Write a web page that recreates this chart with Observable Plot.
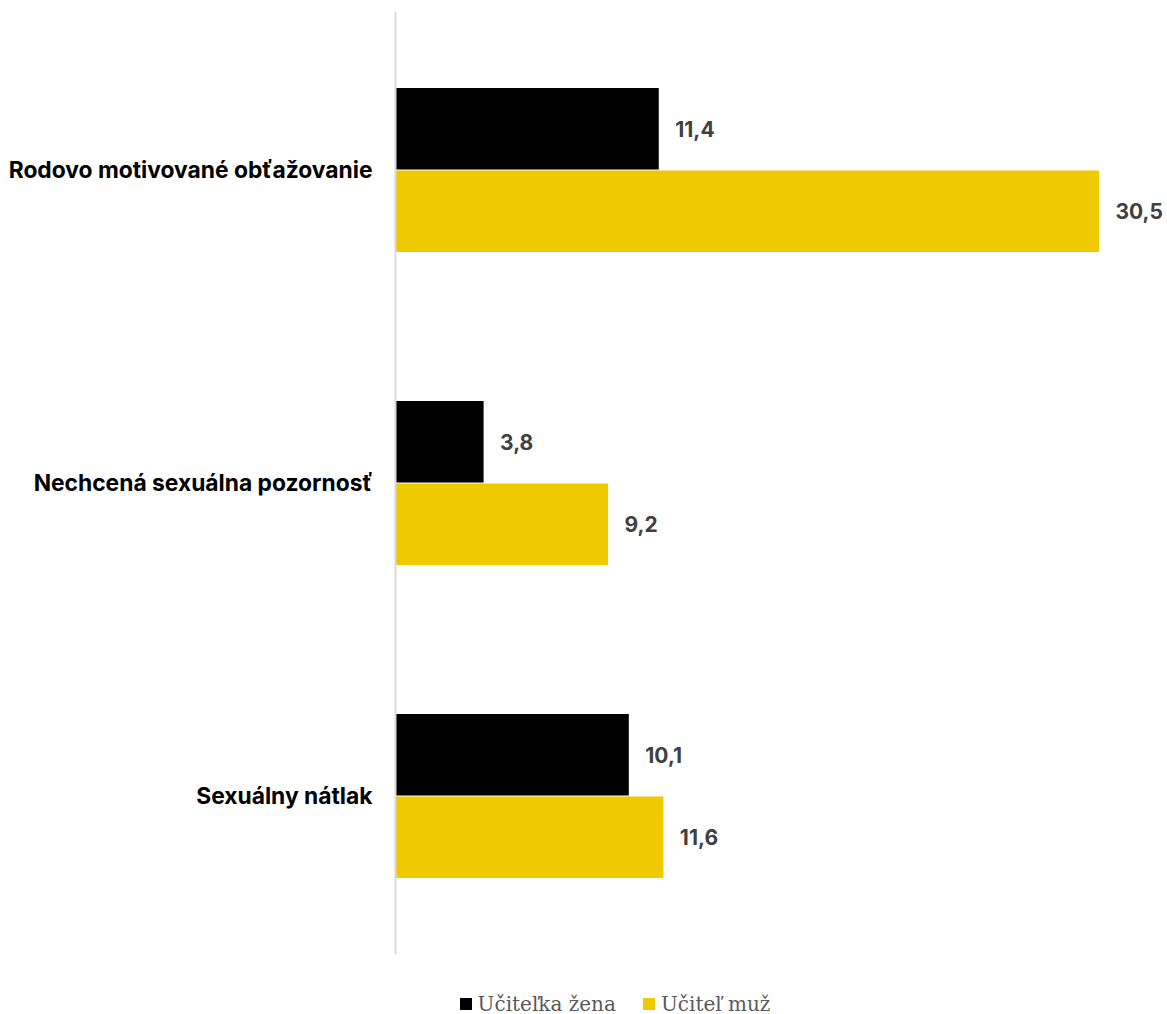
<!DOCTYPE html>
<html>
<head>
<meta charset="utf-8">
<script src="https://cdn.jsdelivr.net/npm/d3@7"></script>
<script src="https://cdn.jsdelivr.net/npm/@observablehq/plot@0.6"></script>
<style>
  html, body { margin: 0; padding: 0; background: #fff; }
  #chart { width: 1167px; }
  .legend { display: flex; justify-content: center; gap: 27px; font-family: "DejaVu Serif", "Liberation Serif", serif; font-size: 20px; color: #595959; margin-top: 28px; padding-left: 63px; }
  .legend span.item { display: inline-flex; align-items: center; gap: 6px; }
  .legend span.sw { display: inline-block; width: 12px; height: 12px; }
</style>
</head>
<body>
<div id="chart"></div>
<script>
const categories = ["Rodovo motivované obťažovanie", "Nechcená sexuálna pozornosť", "Sexuálny nátlak"];
const seriesNames = ["Učiteľka žena", "Učiteľ muž"];
const womenValues = [11.4, 3.8, 10.1];
const menValues = [30.5, 9.2, 11.6];
const seriesColors = ["#000000", "#f0ca00"];

const women = categories.map((c, i) => ({category: c, value: womenValues[i]}));
const men = categories.map((c, i) => ({category: c, value: menValues[i]}));
const fmt = v => v.toFixed(1).replace(".", ",");

const chart = Plot.plot({
  width: 1167,
  height: 964,
  marginLeft: 396,
  marginRight: 68,
  marginTop: 12,
  marginBottom: 10,
  style: {fontFamily: "Inter, sans-serif", background: "#fff"},
  x: {domain: [0, 30.5], axis: null},
  y: {domain: categories, paddingInner: 0.4745, paddingOuter: 0.239, label: null},
  marks: [
    Plot.axisY({tickSize: 0, tickPadding: 24, fontSize: 22.8, fontWeight: "bold", fill: "#000", label: null}),
    Plot.barX(women, {x: "value", y: "category", fill: seriesColors[0], insetBottom: 82.5}),
    Plot.barX(men, {x: "value", y: "category", fill: seriesColors[1], insetTop: 82.5}),
    Plot.ruleX([0], {stroke: "#d9d9d9", strokeWidth: 2, dx: -1}),
    Plot.text(women, {x: "value", y: "category", text: d => fmt(d.value), dy: -40, dx: 16, textAnchor: "start", fontSize: 21, fontWeight: "bold", fill: "#404040"}),
    Plot.text(men, {x: "value", y: "category", text: d => fmt(d.value), dy: 42, dx: 16, textAnchor: "start", fontSize: 21, fontWeight: "bold", fill: "#404040"})
  ]
});
document.getElementById("chart").appendChild(chart);

const legend = document.createElement("div");
legend.className = "legend";
seriesNames.forEach((n, i) => {
  const it = document.createElement("span");
  it.className = "item";
  const sw = document.createElement("span");
  sw.className = "sw";
  sw.style.background = seriesColors[i];
  it.appendChild(sw);
  it.appendChild(document.createTextNode(n));
  legend.appendChild(it);
});
document.getElementById("chart").appendChild(legend);
</script>
</body>
</html>
